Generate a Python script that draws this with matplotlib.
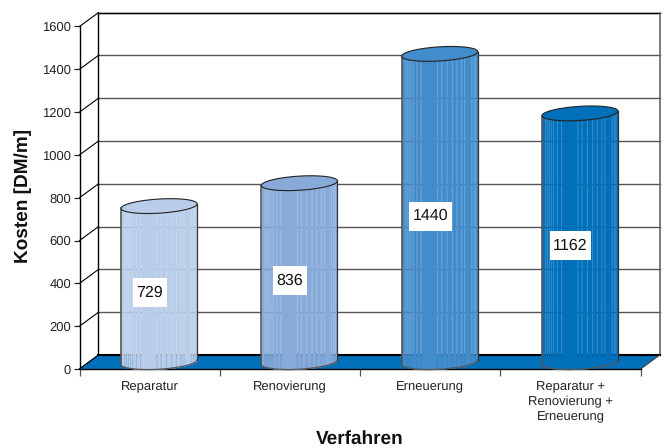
import numpy as np
import matplotlib
matplotlib.use("Agg")
import matplotlib.pyplot as plt
from matplotlib.patches import Rectangle

plt.rcParams['font.family'] = ['Liberation Sans', 'DejaVu Sans']
plt.rcParams['text.hinting'] = 'no_hinting'
plt.rcParams['text.hinting_factor'] = 1

categories = ["Reparatur", "Renovierung", "Erneuerung", "Reparatur +\nRenovierung +\nErneuerung"]
costs = [729, 836, 1440, 1162]
y_ticks = [0, 200, 400, 600, 800, 1000, 1200, 1400, 1600]
colors = ["#b9cde9", "#88aad9", "#438ccb", "#0070ba"]
floor_color = "#0070ba"

# depth of the box, in data units
depth_x = 0.135
depth_y = 65.0
# cylinder shape
half_w = 0.271
half_h = 33.0
tilt = 10.5
base_y = 32.0
# see-through slits on the cylinder wall, -1 = left edge, 1 = right edge
slits = [-0.92, -0.87, -0.82, -0.77, -0.71, -0.61, -0.50, -0.07, 0.04, 0.18,
         0.32, 0.44, 0.56, 0.64, 0.83, 0.89, 0.93]
slit_w = 0.03


def draw_cylinder(ax, cx, value, color):
    top_y = base_y + value
    u = np.linspace(-1, 1, 201)
    x = cx + half_w * u
    bottom = base_y + tilt * u - half_h * np.sqrt(1 - u ** 2)
    top = top_y + tilt * u

    # wall: translucent first so the grid and floor show in the slits
    ax.fill_between(x, bottom, top, color=color, alpha=0.8, lw=0, zorder=3, clip_on=False)
    edges = [-1] + [e for s in slits for e in (s - slit_w / 2, s + slit_w / 2)] + [1]
    for a, b in zip(edges[0::2], edges[1::2]):
        us = np.linspace(a, b, 25)
        ax.fill_between(cx + half_w * us,
                        base_y + tilt * us - half_h * np.sqrt(1 - us ** 2),
                        top_y + tilt * us,
                        color=color, lw=0, zorder=3, clip_on=False)

    # outline
    ax.plot(x, bottom, color="#555555", lw=0.9, zorder=4, clip_on=False)
    ax.plot([cx - half_w] * 2, [base_y - tilt, top_y - tilt], color="#555555", lw=1.2, zorder=4, clip_on=False)
    ax.plot([cx + half_w] * 2, [base_y + tilt, top_y + tilt], color="#333333", lw=0.9, zorder=4, clip_on=False)

    # lid
    t = np.linspace(0, 2 * np.pi, 200)
    ax.fill(cx + half_w * np.cos(t), top_y + tilt * np.cos(t) + half_h * np.sin(t),
            facecolor=color, edgecolor="#222222", lw=0.8, zorder=5, clip_on=False)


def draw_value_label(ax, x, value):
    # white box wider than the text by a little, but much taller
    y = value / 2 - 6
    txt = ax.text(x, y, str(value), ha="center", va="center", fontsize=11.7, color="#111111", zorder=7)
    fig.canvas.draw()
    bb = txt.get_window_extent().transformed(ax.transData.inverted())
    pad_x = 3.5 / 140.3
    box_h = 29 / 0.214
    ax.add_patch(Rectangle((bb.x0 - pad_x, y - box_h / 2), bb.width + 2 * pad_x, box_h,
                           facecolor="white", edgecolor="none", zorder=6, clip_on=False))


fig = plt.figure(figsize=(6.64, 4.48), dpi=100)
ax = fig.add_axes([79.5 / 664, (448 - 369) / 448, 561.2 / 664, 342.5 / 448])
ax.set_xlim(0, 4)
ax.set_ylim(0, 1600)
ax.patch.set_visible(False)

# back wall and side wall
for v in y_ticks:
    ax.plot([depth_x, 4 + depth_x], [v + depth_y] * 2, color="#555555", lw=1.0, zorder=1, clip_on=False)
    ax.plot([0, depth_x], [v, v + depth_y], color="black", lw=0.8, zorder=1, clip_on=False)
ax.plot([depth_x, 4 + depth_x], [1600 + depth_y] * 2, color="black", lw=1.0, zorder=1, clip_on=False)
ax.plot([depth_x, depth_x], [depth_y, 1600 + depth_y], color="black", lw=1.0, zorder=1, clip_on=False)
ax.plot([4 + depth_x] * 2, [depth_y, 1600 + depth_y], color="#666666", lw=1.2, zorder=1, clip_on=False)

# floor
ax.fill([0, 4, 4 + depth_x, depth_x], [0, 0, depth_y, depth_y], facecolor=floor_color, lw=0, zorder=2, clip_on=False)
ax.plot([depth_x, 4 + depth_x], [depth_y, depth_y], color="black", lw=1.5, zorder=2, clip_on=False)
ax.plot([0, depth_x], [0, depth_y], color="black", lw=0.8, zorder=2, clip_on=False)
ax.plot([4, 4 + depth_x], [0, depth_y], color="#444444", lw=0.8, zorder=2, clip_on=False)

for i, (value, color) in enumerate(zip(costs, colors)):
    draw_cylinder(ax, i + 0.5 + depth_x / 2, value, color)
    draw_value_label(ax, i + 0.5, value)

ax.spines["top"].set_visible(False)
ax.spines["right"].set_visible(False)
ax.spines["left"].set_linewidth(1.0)
ax.spines["bottom"].set_linewidth(1.0)
ax.spines["left"].set_zorder(2.5)
ax.spines["bottom"].set_zorder(2.5)

ax.set_yticks(y_ticks)
ax.tick_params(axis="y", length=4.5, width=0.9, pad=1.5, labelsize=9, color="#222222", labelcolor="#222222")
ax.set_xticks(range(5))
ax.set_xticklabels([])
ax.tick_params(axis="x", which="major", length=5, width=0.9, color="#555555")
ax.set_xticks([0.5, 1.5, 2.5, 3.5], labels=categories, minor=True)
ax.tick_params(axis="x", which="minor", length=0, pad=8.5, labelsize=9, labelcolor="#222222")
for label in ax.get_xticklabels(minor=True):
    label.set_linespacing(1.33)

ax.set_ylabel("Kosten [DM/m]", fontsize=13.4, fontweight="bold", color="#111111")
ax.yaxis.set_label_coords(-0.084, 0.505)
ax.set_xlabel("Verfahren", fontsize=13.4, fontweight="bold", color="#111111")
ax.xaxis.set_label_coords(0.50, -0.178)

fig.savefig("out.png", dpi=100)
